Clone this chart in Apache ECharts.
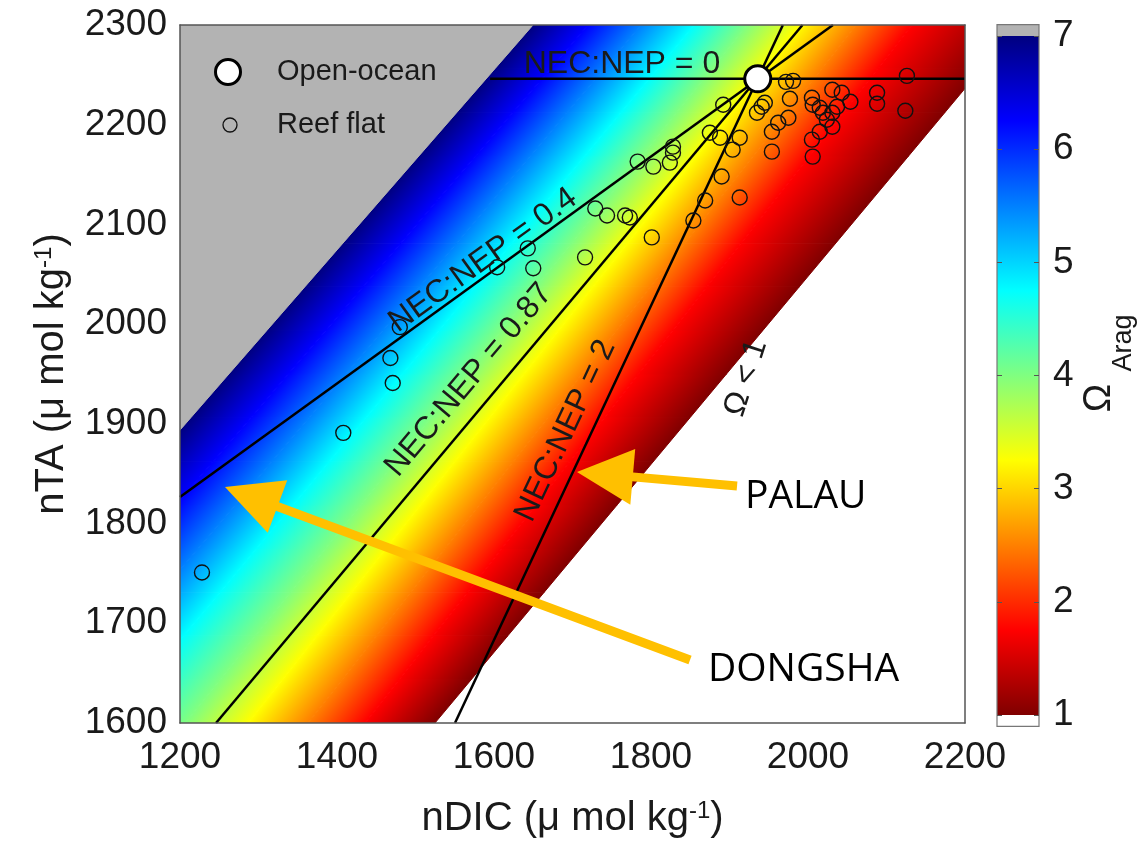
<!DOCTYPE html>
<html>
<head>
<meta charset="utf-8">
<title>nTA vs nDIC with aragonite saturation</title>
<script src="https://cdn.jsdelivr.net/npm/echarts@6/dist/echarts.min.js"></script>
<style>
  html, body { margin: 0; padding: 0; background: #fff; }
  #chart { width: 1139px; height: 844px; }
</style>
</head>
<body>
<div id="chart"></div>
<script>
// ---- aragonite saturation field: iso-lines of Omega_arag ----
// each iso-line runs from (isoDicLow, 1600) to (isoDicHigh, 2300)
const omegaLevels = [1, 1.75, 2.5, 3.25, 4, 4.75, 5.5, 6.25, 7];
const isoDicLow   = [1524.8, 1435.7, 1363.0, 1286.6, 1206.4, 1111.7, 1035.2, 956.1, 874.8];
const isoDicHigh  = [2267.5, 2132.5, 2061.1, 1989.8, 1922.3, 1854.8, 1787.3, 1719.7, 1649.7];
const isoTA = [1600, 2300];
// jet colours at each level (dark red -> dark blue)
const levelColors = ['#800000', '#ff0000', '#ff8000', '#ffff00', '#80ff80', '#00ffff', '#0080ff', '#0000ff', '#000080'];
const overColor = '#b3b3b3';

// ---- open-ocean end member ----
const openOcean = [1936, 2246];

// ---- reef flat samples ----
const reefDIC = [2126, 2088, 2088, 2124, 2031, 2043, 2054, 2005, 2006, 1977,
                 1945, 1941, 1935, 1892, 1972, 1981, 2015, 2019, 2031, 2037,
                 2024, 1975, 1962, 2031, 1954, 2015, 2005, 2006, 1954, 1904,
                 1913, 1875, 1888, 1890, 1869, 1913, 1828, 1828, 1824, 1783,
                 1803, 1854, 1729, 1744, 1767, 1773, 1801, 1716, 1643, 1650,
                 1604, 1480, 1468, 1471, 1408, 1228];
const reefTA  = [2249, 2232, 2221, 2214, 2235, 2232, 2223, 2227, 2220, 2226,
                 2222, 2218, 2212, 2220, 2243, 2244, 2217, 2212, 2212, 2218,
                 2205, 2207, 2202, 2198, 2193, 2193, 2185, 2168, 2173, 2175,
                 2187, 2192, 2187, 2148, 2124, 2127, 2178, 2172, 2162, 2163,
                 2158, 2104, 2116, 2109, 2109, 2107, 2087, 2067, 2076, 2056,
                 2057, 1997, 1966, 1941, 1891, 1751];

// ---- NEC:NEP vectors (end points in nDIC, nTA) ----
const ratioNames = ['0', '0.4', '0.87', '2'];
const ratioStart = [[1595, 2246], [1200, 1826.6], [1245.9, 1600], [1550.3, 1600]];
const ratioEnd   = [[2200, 2246], [2031.8, 2300], [1993.0, 2300], [1968.0, 2300]];

// ---- text annotations (anchors in nDIC, nTA) ----
const labelTexts = ratioNames.map(r => 'NEC:NEP = ' + r).concat(['\u03a9 < 1']);
const labelAnchors = [[1763, 2261], [1586, 2064], [1568, 1944], [1691, 1893], [1921, 1946]];
const omegaLabelTilt = 72;

const arrowNames = ['PALAU', 'DONGSHA'];
const arrowTail  = [[1909.6, 1837.7], [1849.7, 1663.2]];
const arrowTip   = [[1705.7, 1851.7], [1257.3, 1836.7]];
const arrowLabelAt = [[1919.7, 1826.6], [1872.6, 1653]];

// ---- colour bar ticks ----
const cbarTicks = [1, 2, 3, 4, 5, 6, 7];

const FONT = '"Liberation Sans", Arial, Helvetica, sans-serif';
const TXT = '#1a1a1a';
const FRAME = '#555';
const ARROW = '#ffc000';

function pointOn(api, k, t) {
  return api.coord([
    isoDicLow[k] + t * (isoDicHigh[k] - isoDicLow[k]),
    isoTA[0] + t * (isoTA[1] - isoTA[0])
  ]);
}

// shaded bands between neighbouring iso-lines, each split into short quads
function renderField(params, api) {
  const k = api.value(2);
  const last = omegaLevels.length - 1;
  if (k === last) {
    const pts = [
      api.coord([isoDicLow[k], isoTA[0]]),
      api.coord([isoDicHigh[k], isoTA[1]]),
      api.coord([isoDicHigh[k] - 2000, isoTA[1]]),
      api.coord([isoDicLow[k] - 2000, isoTA[0]])
    ];
    return { type: 'polygon', shape: { points: pts }, style: { fill: overColor, stroke: overColor, lineWidth: 1 } };
  }
  const nSeg = 16;
  const children = [];
  for (let j = 0; j < nSeg; j++) {
    const t0 = j / nSeg, t1 = (j + 1) / nSeg;
    const p0 = pointOn(api, k, t0), p1 = pointOn(api, k, t1);
    const q1 = pointOn(api, k + 1, t1), q0 = pointOn(api, k + 1, t0);
    const mx = (p0[0] + p1[0]) / 2, my = (p0[1] + p1[1]) / 2;
    let dx = p1[0] - p0[0], dy = p1[1] - p0[1];
    const L = Math.hypot(dx, dy); dx /= L; dy /= L;
    const nx = -dy, ny = dx;
    const qx = (q0[0] + q1[0]) / 2, qy = (q0[1] + q1[1]) / 2;
    const s = (qx - mx) * nx + (qy - my) * ny;
    const grad = new echarts.graphic.LinearGradient(mx, my, mx + s * nx, my + s * ny, [
      { offset: 0, color: levelColors[k] },
      { offset: 1, color: levelColors[k + 1] }
    ], true);
    children.push({
      type: 'polygon',
      shape: { points: [p0, p1, q1, q0] },
      style: { fill: grad, stroke: grad, lineWidth: 1 }
    });
  }
  return { type: 'group', children: children };
}

function renderColorbar(params, api) {
  const lo = omegaLevels[0], hi = omegaLevels[omegaLevels.length - 1];
  const cap = 0.1;
  const a = api.coord([0, hi]), b = api.coord([1, lo]);
  const top = api.coord([0, hi + cap]), bot = api.coord([1, lo - cap]);
  const stops = omegaLevels.map((v, i) => ({ offset: (v - lo) / (hi - lo), color: levelColors[i] }));
  return {
    type: 'group',
    children: [
      { type: 'rect', shape: { x: a[0], y: a[1], width: b[0] - a[0], height: b[1] - a[1] },
        style: { fill: new echarts.graphic.LinearGradient(0, 1, 0, 0, stops) } },
      { type: 'rect', shape: { x: top[0], y: top[1], width: b[0] - a[0], height: a[1] - top[1] },
        style: { fill: overColor } },
      { type: 'rect', shape: { x: a[0], y: b[1], width: b[0] - a[0], height: bot[1] - b[1] },
        style: { fill: '#fff' } },
      { type: 'rect', shape: { x: top[0], y: top[1], width: b[0] - a[0], height: bot[1] - top[1] },
        style: { fill: 'none', stroke: '#777', lineWidth: 1.2 } }
    ]
  };
}

function renderLabel(params, api) {
  const i = api.value(2);
  const c = api.coord([api.value(0), api.value(1)]);
  let rot;
  if (i < ratioStart.length) {
    const a = api.coord(ratioStart[i]), b = api.coord(ratioEnd[i]);
    rot = Math.atan2(a[1] - b[1], b[0] - a[0]);
  } else {
    rot = omegaLabelTilt * Math.PI / 180;
  }
  return {
    type: 'text', x: c[0], y: c[1], rotation: rot,
    style: { text: labelTexts[i], fontSize: 32, fontFamily: FONT, fill: TXT,
             align: 'center', verticalAlign: 'middle' }
  };
}

function renderArrow(params, api) {
  const i = api.value(2);
  const tip = api.coord(arrowTip[i]), tail = api.coord(arrowTail[i]);
  let dx = tip[0] - tail[0], dy = tip[1] - tail[1];
  const L = Math.hypot(dx, dy); dx /= L; dy /= L;
  const nx = -dy, ny = dx;
  const HL = 56, HW = 28;
  const bx = tip[0] - dx * HL, by = tip[1] - dy * HL;
  const lab = api.coord(arrowLabelAt[i]);
  return {
    type: 'group',
    children: [
      { type: 'line', shape: { x1: tail[0], y1: tail[1], x2: bx + dx * 3, y2: by + dy * 3 },
        style: { stroke: ARROW, lineWidth: 9 } },
      { type: 'polygon', shape: { points: [tip, [bx + nx * HW, by + ny * HW], [bx - nx * HW, by - ny * HW]] },
        style: { fill: ARROW } },
      { type: 'text', x: lab[0], y: lab[1],
        style: { text: arrowNames[i], fontSize: 39, fontFamily: '"Open Sans", "Noto Sans", sans-serif',
                 fill: '#000', align: 'left', verticalAlign: 'middle' } }
    ]
  };
}

const richName = {
  t: { fontSize: 40, fontFamily: FONT, color: TXT },
  s: { fontSize: 24, fontFamily: FONT, color: TXT, verticalAlign: 'top' }
};
const plain = v => String(v);

const series = [
  {
    type: 'custom', name: 'field', renderItem: renderField, clip: true, silent: true, z: 1,
    encode: { x: 0, y: 1 },
    data: omegaLevels.map((v, k) => [1700, 1950, k])
  }
];
ratioNames.forEach((r, i) => {
  series.push({
    type: 'line', name: 'NEC:NEP ' + r, data: [ratioStart[i], ratioEnd[i]],
    showSymbol: false, symbol: 'none', silent: true, z: 3,
    lineStyle: { color: '#000', width: 2.5 }
  });
});
series.push(
  {
    type: 'scatter', name: 'Reef flat', z: 4, silent: true,
    data: reefDIC.map((d, i) => [d, reefTA[i]]),
    symbol: 'circle', symbolSize: 15,
    itemStyle: { color: 'rgba(0,0,0,0)', borderColor: '#111', borderWidth: 1.4, opacity: 1 }
  },
  {
    type: 'scatter', name: 'Open-ocean', z: 5, silent: true,
    data: [openOcean], symbol: 'circle', symbolSize: 26,
    itemStyle: { color: '#fff', borderColor: '#000', borderWidth: 3, opacity: 1 }
  },
  {
    type: 'custom', name: 'labels', renderItem: renderLabel, silent: true, z: 6,
    encode: { x: 0, y: 1 },
    data: labelAnchors.map((p, i) => [p[0], p[1], i])
  },
  {
    type: 'custom', name: 'arrows', renderItem: renderArrow, silent: true, z: 7,
    encode: { x: 0, y: 1 },
    data: arrowTip.map((p, i) => [p[0], p[1], i])
  },
  {
    type: 'custom', name: 'colorbar', renderItem: renderColorbar, silent: true, z: 1,
    xAxisIndex: 2, yAxisIndex: 2, encode: { x: 0, y: 1 },
    data: [[0.5, 4, 0]]
  }
);

const option = {
  animation: false,
  backgroundColor: '#fff',
  grid: [
    { left: 180, right: 174, top: 25, bottom: 121 },
    { left: 997, width: 42, top: 36, height: 679 }
  ],
  xAxis: [
    {
      gridIndex: 0, type: 'value', min: 1200, max: 2200, interval: 200, position: 'bottom', z: 10,
      axisLine: { show: true, onZero: false, lineStyle: { color: FRAME, width: 1.5 } },
      axisTick: { show: false }, splitLine: { show: false },
      axisLabel: { fontSize: 37, fontFamily: FONT, color: TXT, margin: 16, formatter: plain },
      name: '{t|nDIC (\u03bc mol kg}{s|-1}{t|)}', nameLocation: 'middle', nameGap: 76,
      nameTextStyle: { rich: richName }
    },
    {
      gridIndex: 0, type: 'value', min: 1200, max: 2200, position: 'top', z: 10,
      axisLine: { show: true, onZero: false, lineStyle: { color: FRAME, width: 1.5 } },
      axisTick: { show: false }, axisLabel: { show: false }, splitLine: { show: false }
    },
    { gridIndex: 1, type: 'value', min: 0, max: 1, show: false }
  ],
  yAxis: [
    {
      gridIndex: 0, type: 'value', min: 1600, max: 2300, interval: 100, position: 'left', z: 10,
      axisLine: { show: true, onZero: false, lineStyle: { color: FRAME, width: 1.5 } },
      axisTick: { show: false }, splitLine: { show: false },
      axisLabel: { fontSize: 37, fontFamily: FONT, color: TXT, margin: 13, formatter: plain },
      name: '{t|nTA (\u03bc mol kg}{s|-1}{t|)}', nameLocation: 'middle', nameGap: 108, nameRotate: 90,
      nameTextStyle: { rich: richName }
    },
    {
      gridIndex: 0, type: 'value', min: 1600, max: 2300, position: 'right', z: 10,
      axisLine: { show: true, onZero: false, lineStyle: { color: FRAME, width: 1.5 } },
      axisTick: { show: false }, axisLabel: { show: false }, splitLine: { show: false }
    },
    {
      gridIndex: 1, type: 'value', min: cbarTicks[0], max: cbarTicks[cbarTicks.length - 1], interval: 1,
      position: 'left', z: 10,
      axisLine: { show: false }, splitLine: { show: false }, axisLabel: { show: false },
      axisTick: { show: true, inside: true, length: 5, lineStyle: { color: '#555' } }
    },
    {
      gridIndex: 1, type: 'value', min: cbarTicks[0], max: cbarTicks[cbarTicks.length - 1], interval: 1,
      position: 'right', z: 10,
      axisLine: { show: false }, splitLine: { show: false },
      axisTick: { show: true, inside: true, length: 5, lineStyle: { color: '#555' } },
      axisLabel: { fontSize: 37, fontFamily: FONT, color: TXT, margin: 14, formatter: plain }
    }
  ],
  graphic: [
    { type: 'circle', shape: { cx: 228, cy: 72, r: 12.5 }, style: { fill: '#fff', stroke: '#000', lineWidth: 3 }, z: 20 },
    { type: 'text', x: 277, y: 72, style: { text: 'Open-ocean', fontSize: 29, fontFamily: FONT, fill: TXT, verticalAlign: 'middle' }, z: 20 },
    { type: 'circle', shape: { cx: 230, cy: 125, r: 7 }, style: { fill: 'none', stroke: '#111', lineWidth: 1.3 }, z: 20 },
    { type: 'text', x: 277, y: 125, style: { text: 'Reef flat', fontSize: 29, fontFamily: FONT, fill: TXT, verticalAlign: 'middle' }, z: 20 },
    { type: 'text', x: 1100, y: 398, rotation: Math.PI / 2,
      style: { text: '\u03a9', fontSize: 38, fontFamily: FONT, fill: TXT, align: 'center', verticalAlign: 'middle' }, z: 20 },
    { type: 'text', x: 1124, y: 343, rotation: Math.PI / 2,
      style: { text: 'Arag', fontSize: 27, fontFamily: FONT, fill: TXT, align: 'center', verticalAlign: 'middle' }, z: 20 }
  ],
  series: series
};

const chart = echarts.init(document.getElementById('chart'));
chart.setOption(option);
</script>
</body>
</html>
